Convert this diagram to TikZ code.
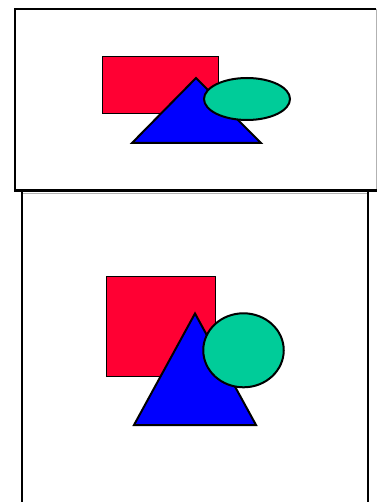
\documentclass[tikz,border=0pt]{standalone}
\usetikzlibrary{shapes.geometric}
\definecolor{shred}{HTML}{FF0033}
\definecolor{shblue}{HTML}{0000FF}
\definecolor{shgreen}{HTML}{00CC99}
\tikzset{
  shp/.style={draw=black, line width=2pt, line join=miter},
  rectshp/.style={draw=black, line width=1.4pt, rectangle, inner sep=0pt, anchor=north west},
  framestyle/.style={draw=black, line width=2.4pt},
  thinframe/.style={draw=gray!60, line width=0.8pt}
}
\begin{document}
\begin{tikzpicture}[x=1pt,y=-1pt]
\useasboundingbox (0,0) rectangle (377,502);
\fill[white] (0,0) rectangle (377,502);
% top frame
\draw[thinframe] (376,9) -- (376,190);
\draw[framestyle] (376,9) -- (15,9) -- (15,190.5) -- (377,190.5);
% bottom frame
\draw[thinframe] (22,193) -- (368,193);
\draw[framestyle, line width=2pt] (22,192) -- (22,503);
\draw[framestyle, line width=2pt] (368,192) -- (368,503);
% top shapes
\node[rectshp, fill=shred, minimum width=116pt, minimum height=57pt] (r1) at (102,56) {};
\draw[shp, fill=shblue] (196,78) -- (261,143) -- (132,143) -- cycle;
\node[shp, fill=shgreen, ellipse, minimum width=86pt, minimum height=42pt, inner sep=0pt] (e1) at (247,99) {};
% bottom shapes
\node[rectshp, fill=shred, minimum width=109pt, minimum height=99.5pt] (r2) at (106,276) {};
\draw[shp, fill=shblue] (195,313.5) -- (256,425) -- (134,425) -- cycle;
\node[shp, fill=shgreen, ellipse, minimum width=80.5pt, minimum height=74pt, inner sep=0pt] (e2) at (243.5,350.3) {};
\end{tikzpicture}
\end{document}
